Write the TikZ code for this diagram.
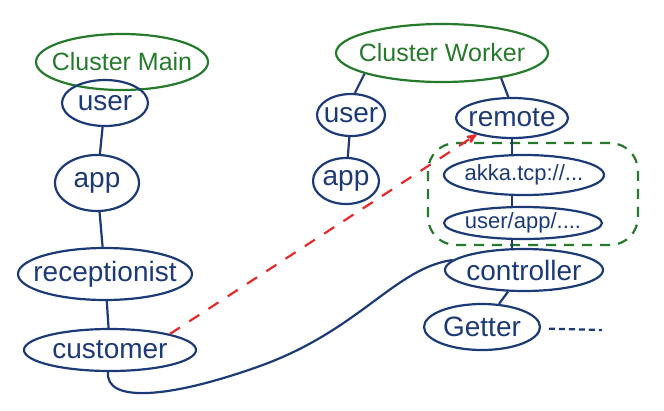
\documentclass[tikz,border=0pt]{standalone}
\usepackage{fontspec}
\setmainfont{Liberation Sans}
\usepackage{tikz}
\usetikzlibrary{arrows,shapes.geometric}
\definecolor{inkblue}{RGB}{28,58,118}
\definecolor{inkgreen}{RGB}{38,122,44}
\definecolor{inkred}{RGB}{228,42,42}
\tikzstyle{actor}   = [draw=inkblue,text=inkblue,ellipse,line width=2.2pt,inner xsep=-12pt,inner ysep=0pt,font=\fontsize{28}{32}\selectfont]
\tikzstyle{small}   = [actor,font=\fontsize{22}{26}\selectfont]
\tikzstyle{cluster} = [actor,draw=inkgreen,text=inkgreen,font=\fontsize{25}{28}\selectfont]
\tikzstyle{zone}    = [draw=inkgreen,line width=2.2pt,dash pattern=on 10pt off 8pt,rounded corners=28pt]
\tikzstyle{remote}  = [->,draw=inkred,line width=2.2pt,dash pattern=on 12pt off 11pt]

\begin{document}
\begin{tikzpicture}[x=1pt,y=-1pt,>=stealth',draw=inkblue,line width=2.2pt]
\useasboundingbox (0,0) rectangle (664,410);

% main node
\node[cluster,minimum width=172,minimum height=56] (CM) at (122,62)  {Cluster Main};
\node[actor,minimum width=86,minimum height=46]    (U1) at (105,103) {user};
\node[actor,minimum width=84,minimum height=56]    (A1) at (97,183)  {app};
\node[actor,minimum width=174,minimum height=52]   (R1) at (105,274) {receptionist};
\node[actor,minimum width=172,minimum height=42]   (C1) at (110,350) {customer};

% worker node
\node[cluster,minimum width=212,minimum height=58] (CW) at (442,53)  {Cluster Worker};
\node[actor,minimum width=68,minimum height=42]    (U2) at (351,115) {user};
\node[actor,minimum width=66,minimum height=46]    (A2) at (346,181) {app};
\node[actor,minimum width=112,minimum height=40]   (RM) at (512,118) {remote};
\node[small,minimum width=160,minimum height=40]   (AK) at (524,175) {akka.tcp://...};
\node[small,minimum width=158,minimum height=32]   (UA) at (523,223) {user/app/....};
\node[actor,minimum width=158,minimum height=42]   (CT) at (524,270) {controller};
\node[actor,minimum width=116,minimum height=46]   (GT) at (482,327) {Getter};
\node[zone,minimum width=210,minimum height=102]   (ZN) at (533,194) {};
\coordinate (TL) at (602,330);

\path
    (U1) edge (A1)
    (A1) edge (R1)
    (R1) edge (C1)
    (CW.195) edge (U2.80)
    (U2) edge (A2)
    (CW.337) edge (RM.100)
    (RM.south) edge (RM.south |- AK.north)
    (RM.south |- AK.south) edge (RM.south |- UA.north)
    (RM.south |- UA.south) edge (RM.south |- CT.north)
    (CT) edge (GT);

\draw[dash pattern=on 6pt off 4pt,shorten <=8pt] (GT) -- (TL);
\draw[remote] (C1.15) -- (RM.205);
\draw (C1.265) .. controls (105,402) and (165,400) .. (260,366)
               .. controls (360,330) and (395,268) .. (CT.172);

\end{tikzpicture}
\end{document}
